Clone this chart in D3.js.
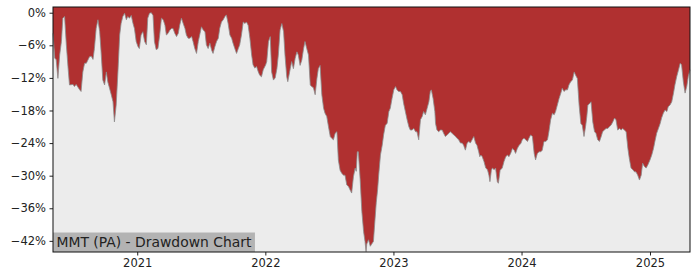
<!DOCTYPE html>
<html>
<head>
<meta charset="utf-8">
<script src="https://cdn.jsdelivr.net/npm/d3@7"></script>
<style>
  body { margin: 0; background: #fff; }
  svg { display: block; font-family: "DejaVu Sans", sans-serif; }
</style>
</head>
<body>
<script>
// drawdown in percent
var dates = [
  "2020-05-06","2020-05-11","2020-05-15","2020-05-20","2020-05-25","2020-05-30","2020-06-03","2020-06-08","2020-06-13","2020-06-18",
  "2020-06-22","2020-07-02","2020-07-06","2020-07-11","2020-07-21","2020-07-25","2020-07-30","2020-08-04","2020-08-09","2020-08-18",
  "2020-08-23","2020-08-28","2020-09-01","2020-09-06","2020-09-11","2020-09-16","2020-09-20","2020-09-25","2020-09-30","2020-10-05",
  "2020-10-09","2020-10-14","2020-10-19","2020-10-24","2020-10-28","2020-11-02","2020-11-07","2020-11-12","2020-11-16","2020-11-21",
  "2020-11-26","2020-12-01","2020-12-05","2020-12-10","2020-12-15","2020-12-20","2020-12-24","2020-12-29","2021-01-03","2021-01-07",
  "2021-01-12","2021-01-17","2021-01-22","2021-01-27","2021-01-31","2021-02-05","2021-02-10","2021-02-15","2021-02-19","2021-02-24",
  "2021-03-01",
  "2021-03-06","2021-03-11","2021-03-16","2021-03-21","2021-03-25","2021-03-30","2021-04-04","2021-04-09","2021-04-13","2021-04-18",
  "2021-04-23","2021-04-28","2021-05-02","2021-05-07","2021-05-12","2021-05-17","2021-05-21","2021-05-26","2021-05-31","2021-06-05",
  "2021-06-09","2021-06-14","2021-06-19","2021-06-24","2021-06-28","2021-07-03","2021-07-08","2021-07-13","2021-07-17","2021-07-22",
  "2021-07-27","2021-08-01","2021-08-05","2021-08-10","2021-08-15","2021-08-20","2021-08-24","2021-08-29","2021-09-03","2021-09-08",
  "2021-09-12","2021-09-17","2021-09-22","2021-09-27","2021-10-01","2021-10-06","2021-10-11","2021-10-16","2021-10-20","2021-10-25",
  "2021-10-30","2021-11-04","2021-11-08","2021-11-13","2021-11-18","2021-11-23","2021-11-27","2021-12-02","2021-12-07","2021-12-12",
  "2021-12-16","2021-12-21","2021-12-26","2022-01-02",
  "2022-01-05","2022-01-10","2022-01-15","2022-01-19","2022-01-24","2022-01-29","2022-02-03","2022-02-07","2022-02-12","2022-02-17",
  "2022-02-22","2022-02-26","2022-03-03","2022-03-06","2022-03-13","2022-03-17","2022-03-22","2022-03-27","2022-04-01","2022-04-05",
  "2022-04-10","2022-04-15","2022-04-20","2022-04-24","2022-04-29","2022-05-04","2022-05-09","2022-05-13","2022-05-18","2022-05-23",
  "2022-05-28","2022-06-01","2022-06-06","2022-06-11","2022-06-16","2022-06-20","2022-06-25","2022-06-30","2022-07-05","2022-07-09",
  "2022-07-14","2022-07-19","2022-07-24","2022-07-28","2022-08-02","2022-08-07","2022-08-12","2022-08-16","2022-08-21","2022-08-26",
  "2022-08-31","2022-09-04","2022-09-09","2022-09-14","2022-09-17","2022-09-20","2022-09-23","2022-09-28","2022-10-03","2022-10-08",
  "2022-10-12","2022-10-15","2022-10-17","2022-10-22","2022-10-27","2022-10-31","2022-11-05","2022-11-09","2022-11-13","2022-11-17",
  "2022-11-20","2022-11-25","2022-11-30","2022-12-04","2022-12-09","2022-12-14","2022-12-19","2022-12-23","2022-12-28","2023-01-02",
  "2023-01-07","2023-01-11","2023-01-16","2023-01-21","2023-01-26","2023-01-30","2023-02-04","2023-02-09","2023-02-14","2023-02-18",
  "2023-02-23","2023-02-28","2023-03-05","2023-03-09","2023-03-14","2023-03-19","2023-03-24","2023-03-28","2023-04-02","2023-04-07",
  "2023-04-12","2023-04-16","2023-04-19","2023-04-24","2023-04-29","2023-05-01","2023-05-05","2023-05-10","2023-05-15","2023-05-20",
  "2023-05-24","2023-05-29","2023-06-03","2023-06-08","2023-06-12","2023-06-17","2023-06-22","2023-06-27","2023-07-01","2023-07-06",
  "2023-07-11","2023-07-16","2023-07-20","2023-07-25","2023-07-30","2023-08-04","2023-08-08","2023-08-13","2023-08-18","2023-08-23",
  "2023-08-27","2023-09-01","2023-09-04",
  "2023-09-07","2023-09-11","2023-09-16","2023-09-21","2023-09-26","2023-09-30","2023-10-03","2023-10-07","2023-10-10","2023-10-15",
  "2023-10-19","2023-10-24","2023-10-27","2023-11-01","2023-11-07","2023-11-12","2023-11-17","2023-11-22","2023-11-26","2023-12-01",
  "2023-12-06","2023-12-11","2023-12-15","2023-12-20","2023-12-25","2023-12-30","2024-01-03","2024-01-08","2024-01-13","2024-01-18",
  "2024-01-22","2024-01-27","2024-02-01","2024-02-06","2024-02-10","2024-02-15","2024-02-20","2024-02-25","2024-02-29","2024-03-05",
  "2024-03-10","2024-03-15","2024-03-19","2024-03-24","2024-03-29","2024-04-03","2024-04-07","2024-04-12","2024-04-17","2024-04-22",
  "2024-04-26","2024-05-01","2024-05-06","2024-05-11","2024-05-15","2024-05-20","2024-05-25","2024-05-30","2024-06-03","2024-06-08",
  "2024-06-13","2024-06-18","2024-06-22","2024-06-27","2024-07-02","2024-07-05",
  "2024-07-08","2024-07-12","2024-07-17","2024-07-22","2024-07-27","2024-07-31","2024-08-05","2024-08-10","2024-08-15","2024-08-19",
  "2024-08-24","2024-08-29","2024-09-03","2024-09-07","2024-09-12","2024-09-17","2024-09-22","2024-09-26","2024-10-01","2024-10-06",
  "2024-10-11","2024-10-15","2024-10-20","2024-10-25","2024-10-30","2024-11-03","2024-11-08","2024-11-13","2024-11-18","2024-11-22",
  "2024-11-27","2024-12-02","2024-12-07","2024-12-11","2024-12-16","2024-12-21","2024-12-26","2025-01-01","2025-01-06","2025-01-11",
  "2025-01-15","2025-01-20","2025-01-25","2025-01-30","2025-02-03","2025-02-08","2025-02-13","2025-02-18","2025-02-22","2025-02-27",
  "2025-03-04","2025-03-09","2025-03-13","2025-03-18","2025-03-23","2025-03-28","2025-04-01","2025-04-06","2025-04-11","2025-04-16",
  "2025-04-20","2025-04-25"
];

var drawdown = [
  -3.8,-8.4,-8.6,-12.1,-7.8,-5.3,-1.0,-0.7,-5.9,-10.2,
  -13.3,-13.2,-13.6,-13.2,-14.2,-14.5,-10.9,-9.3,-9.3,-8.1,
  -8.0,-8.6,-6.6,-2.9,-1.3,-3.5,-7.2,-12.4,-13.3,-10.9,
  -12.7,-13.9,-15.1,-16.4,-20.1,-17.0,-10.9,-4.1,-2.0,-0.7,
  -0.1,-1.3,-0.7,-1.0,-0.5,-2.0,-2.9,-5.3,-6.2,-6.6,
  -4.1,-3.5,-5.3,-5.9,-1.0,-0.1,0,-0.5,-5.3,-6.8,
  -6.6,
  -4.1,-1.0,-1.3,-2.3,-4.1,-3.8,-3.2,-2.9,-2.9,-3.8,
  -4.4,-3.8,-2.3,-1.0,-2.0,-2.9,-4.1,-4.7,-4.7,-4.4,
  -5.3,-6.6,-7.5,-5.3,-4.1,-2.6,-3.2,-3.5,-5.9,-6.6,
  -5.6,-6.9,-7.5,-6.3,-5.3,-4.7,-2.9,-1.7,-1.3,-0.7,
  -0.4,-2.0,-4.1,-4.7,-5.6,-6.6,-7.5,-6.6,-5.9,-4.1,
  -1.7,-2.0,-1.7,-2.3,-4.7,-7.8,-9.6,-10.2,-9.9,-10.9,
  -11.5,-11.8,-10.5,-9.6,
  -9.0,-5.3,-4.4,-10.9,-12.4,-12.0,-10.3,-7.8,-3.2,-2.0,
  -3.5,-7.8,-11.8,-12.7,-10.3,-9.0,-10.3,-8.4,-7.2,-7.8,
  -9.7,-8.7,-6.6,-5.3,-6.6,-7.8,-13.3,-13.6,-13.8,-15.1,
  -12.1,-10.3,-9.7,-15.1,-17.6,-18.5,-19.1,-21.0,-22.8,-23.1,
  -23.4,-22.2,-21.9,-27.1,-29.0,-29.6,-29.9,-29.9,-31.7,-32.0,
  -32.7,-33.2,-30.2,-28.6,-29.2,-25.6,-25.6,-30.5,-36.6,-40.3,
  -42.1,-44.0,-42.6,-41.8,-43.0,-42.6,-42.1,-38.5,-35.0,-32.5,
  -29.9,-26.2,-24.4,-22.5,-20.7,-20.4,-18.2,-17.6,-15.8,-14.2,
  -13.6,-14.2,-14.5,-14.5,-15.1,-16.7,-18.2,-19.7,-21.0,-21.6,
  -21.6,-21.3,-21.9,-21.9,-23.4,-19.7,-19.1,-18.2,-18.8,-17.6,
  -16.4,-14.5,-14.2,-15.8,-18.2,-20.4,-21.6,-21.9,-21.6,-21.6,
  -22.2,-22.8,-22.5,-22.2,-21.9,-22.2,-22.5,-22.8,-23.1,-23.4,
  -24.0,-24.0,-24.4,-25.3,-24.0,-23.7,-24.0,-23.4,-22.8,-24.0,
  -24.4,-25.6,-26.5,
  -26.2,-26.5,-27.4,-28.6,-28.9,-29.9,-31.1,-29.0,-28.6,-28.9,
  -28.6,-31.1,-31.4,-29.0,-28.6,-27.4,-26.5,-26.2,-26.5,-25.9,
  -25.0,-25.3,-25.9,-25.0,-24.4,-24.1,-23.4,-23.1,-23.4,-23.7,
  -23.1,-22.5,-22.8,-25.9,-27.1,-25.9,-25.6,-25.6,-25.3,-23.7,
  -23.7,-23.4,-21.9,-19.7,-18.5,-18.8,-18.2,-17.0,-15.8,-14.8,
  -13.9,-14.5,-14.2,-14.2,-13.3,-12.7,-12.4,-10.9,-11.5,-12.1,
  -17.0,-20.4,-20.7,-22.8,-20.7,-19.1,
  -17.0,-16.8,-16.4,-20.1,-21.9,-22.2,-23.4,-23.7,-22.8,-21.9,
  -21.6,-21.3,-21.3,-21.0,-20.7,-20.1,-19.4,-19.7,-21.6,-21.3,
  -21.6,-21.3,-21.6,-21.9,-25.0,-26.8,-28.6,-28.9,-29.3,-29.3,
  -29.9,-30.8,-29.9,-27.7,-28.3,-28.6,-28.0,-27.1,-26.2,-25.0,
  -23.7,-22.2,-21.3,-20.4,-19.4,-18.5,-17.9,-18.2,-17.3,-17.0,
  -16.4,-14.8,-13.3,-11.8,-10.6,-9.3,-9.6,-12.7,-14.8,-13.5,
  -11.8,-10.5
];

var yTicks = [0, -6, -12, -18, -24, -30, -36, -42];
var xTickYears = ["2021", "2022", "2023", "2024", "2025"];
var chartLabel = "MMT (PA) - Drawdown Chart";

function drawChart() {
  var width = 700, height = 280;
  var margin = { top: 7, right: 10, bottom: 28, left: 53 };
  var w = width - margin.left - margin.right;
  var h = height - margin.top - margin.bottom;

  var parse = d3.timeParse("%Y-%m-%d");
  var data = dates.map(function(d, i) { return { date: parse(d), value: drawdown[i] }; });

  var yTop = 1.05;
  var yMin = d3.min(data, function(d) { return d.value; }) - 0.05;

  var x = d3.scaleTime()
    .domain(d3.extent(data, function(d) { return d.date; }))
    .range([0, w]);
  var y = d3.scaleLinear()
    .domain([yMin, yTop])
    .range([h, 0]);

  var svg = d3.select("body").append("svg")
    .attr("width", width)
    .attr("height", height);

  var g = svg.append("g")
    .attr("transform", "translate(" + margin.left + "," + margin.top + ")");

  g.append("rect")
    .attr("width", w)
    .attr("height", h)
    .attr("fill", "#ececec");

  var area = d3.area()
    .x(function(d) { return x(d.date); })
    .y0(y(yTop))
    .y1(function(d) { return y(d.value); });

  g.append("path")
    .datum(data)
    .attr("d", area)
    .attr("fill", "#b03030");

  var line = d3.line()
    .x(function(d) { return x(d.date); })
    .y(function(d) { return y(d.value); });

  g.append("path")
    .datum(data)
    .attr("d", line)
    .attr("fill", "none")
    .attr("stroke", "#8c8c8c")
    .attr("stroke-width", 0.8);

  // label box at bottom left
  var label = g.append("text")
    .attr("x", 3.5)
    .attr("y", h - 5)
    .attr("font-size", "13.9px")
    .attr("fill", "#222")
    .text(chartLabel);
  var bb = label.node().getBBox();
  g.insert("rect", "text")
    .attr("x", 0)
    .attr("y", h - 19.5)
    .attr("width", bb.width + 6.5)
    .attr("height", 19.5)
    .attr("fill", "#b3b3b3");

  var yAxis = d3.axisLeft(y)
    .tickValues(yTicks)
    .tickSize(3.5)
    .tickPadding(3.5)
    .tickFormat(function(d) { return d === 0 ? "0%" : "\u2212" + Math.abs(d) + "%"; });

  var xAxis = d3.axisBottom(x)
    .tickValues(xTickYears.map(function(s) { return parse(s + "-01-01"); }))
    .tickSize(3.5)
    .tickPadding(3.5)
    .tickFormat(d3.timeFormat("%Y"));

  var ya = g.append("g").call(yAxis);
  var xa = g.append("g").attr("transform", "translate(0," + h + ")").call(xAxis);

  [ya, xa].forEach(function(a) {
    a.select(".domain").remove();
    a.selectAll("text").attr("font-size", "11.5px").attr("fill", "#222")
      .attr("font-family", "DejaVu Sans, sans-serif");
    a.selectAll("line").attr("stroke", "#222");
  });

  g.append("rect")
    .attr("width", w)
    .attr("height", h)
    .attr("fill", "none")
    .attr("stroke", "#111")
    .attr("stroke-width", 1);
}

document.addEventListener("DOMContentLoaded", function(event) {
  drawChart();
});
</script>
</body>
</html>
